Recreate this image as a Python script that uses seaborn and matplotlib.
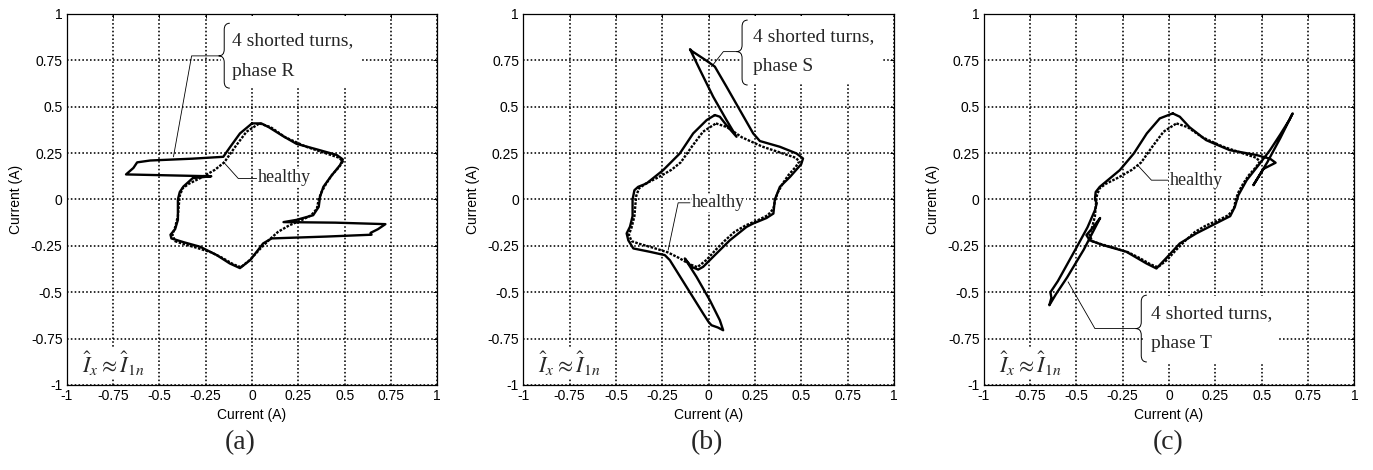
import matplotlib.pyplot as plt
import numpy as np
import pandas as pd
import seaborn as sns
from matplotlib.path import Path
from matplotlib.patches import PathPatch, Rectangle

# healthy machine loop (same in all three panels)
healthy_x = [0.04, 0.10, 0.18, 0.29, 0.41, 0.47, 0.49, 0.47, 0.43, 0.40, 0.375, 0.36, 0.35, 0.32,
             0.27, 0.20, 0.14, 0.09, 0.04, -0.01, -0.06, -0.10, -0.16, -0.22, -0.30, -0.37, -0.415,
             -0.43, -0.415, -0.40, -0.395, -0.39, -0.375, -0.34, -0.27, -0.20, -0.15, -0.09, -0.03, 0.04]
healthy_y = [0.41, 0.39, 0.335, 0.285, 0.245, 0.225, 0.205, 0.175, 0.13, 0.085, 0.04, 0.0, -0.05, -0.085,
             -0.11, -0.14, -0.175, -0.22, -0.27, -0.325, -0.365, -0.35, -0.315, -0.285, -0.26, -0.24, -0.225,
             -0.19, -0.15, -0.09, -0.03, 0.02, 0.06, 0.085, 0.12, 0.16, 0.2, 0.285, 0.365, 0.41]

# 4 shorted turns in phase R
fault_r_x = [0.0, 0.05, 0.09, 0.17, 0.24, 0.35, 0.457, 0.49, 0.475, 0.43, 0.385, 0.367, 0.36, 0.33,
             0.24, 0.17, 0.45, 0.72, 0.68, 0.64, 0.645, 0.40, 0.106, 0.06, -0.01, -0.065, -0.12,
             -0.19, -0.28, -0.37, -0.435, -0.44, -0.415, -0.40, -0.40, -0.39, -0.37, -0.32, -0.22,
             -0.45, -0.68, -0.64, -0.62, -0.55, -0.32, -0.155, -0.12, -0.065, 0.0]
fault_r_y = [0.41, 0.41, 0.39, 0.34, 0.30, 0.27, 0.24, 0.216, 0.185, 0.13, 0.068, 0.014, -0.04, -0.085,
             -0.11, -0.122, -0.125, -0.133, -0.16, -0.18, -0.19, -0.20, -0.21, -0.237, -0.327, -0.37, -0.345,
             -0.30, -0.255, -0.23, -0.21, -0.19, -0.16, -0.11, 0.0, 0.04, 0.07, 0.115, 0.125,
             0.13, 0.135, 0.17, 0.20, 0.21, 0.22, 0.23, 0.28, 0.356, 0.41]

# 4 shorted turns in phase S
fault_s_x = [0.034, 0.061, 0.097, 0.151, 0.097, 0.025, -0.047, -0.10, -0.09, -0.011, 0.034, 0.097,
             0.169, 0.241, 0.277, 0.385, 0.475, 0.51, 0.50, 0.44, 0.385, 0.358, 0.35, 0.313, 0.24,
             0.205, 0.115, 0.043, -0.029, -0.056, -0.092, -0.128, -0.065, 0.007, 0.061, 0.079, 0.05,
             0.016, 0.0, -0.029, -0.119, -0.209, -0.236, -0.317, -0.406, -0.433, -0.442, -0.424,
             -0.41, -0.41, -0.40, -0.38, -0.335, -0.245, -0.155, -0.083, -0.01, 0.034]
fault_s_y = [0.455, 0.446, 0.40, 0.338, 0.428, 0.554, 0.70, 0.81, 0.80, 0.748, 0.716, 0.608,
             0.482, 0.356, 0.315, 0.284, 0.248, 0.221, 0.19, 0.122, 0.068, 0.0, -0.076, -0.1, -0.13,
             -0.148, -0.22, -0.291, -0.363, -0.378, -0.363, -0.318, -0.417, -0.543, -0.651, -0.705, -0.69,
             -0.678, -0.66, -0.615, -0.471, -0.327, -0.30, -0.282, -0.264, -0.22, -0.183, -0.147,
             -0.09, 0.0, 0.05, 0.068, 0.086, 0.158, 0.248, 0.356, 0.428, 0.455]

# 4 shorted turns in phase T
fault_t_x = [0.02, 0.058, 0.11, 0.2, 0.327, 0.47, 0.545, 0.575, 0.51, 0.455, 0.53, 0.60, 0.667,
             0.65, 0.60, 0.545, 0.49, 0.419, 0.374, 0.355, 0.33, 0.31, 0.147, 0.058, 0.0, -0.068,
             -0.122, -0.23, -0.356, -0.428, -0.446, -0.41, -0.372, -0.46, -0.55, -0.61, -0.646,
             -0.635, -0.64, -0.60, -0.50, -0.44, -0.40, -0.39, -0.40, -0.396, -0.374, -0.266,
             -0.19, -0.12, -0.05, 0.02]
fault_t_y = [0.464, 0.446, 0.39, 0.32, 0.266, 0.24, 0.22, 0.198, 0.165, 0.077, 0.20, 0.33, 0.464,
             0.43, 0.35, 0.266, 0.194, 0.104, 0.023, -0.04, -0.09, -0.1, -0.183, -0.237, -0.30, -0.372,
             -0.345, -0.282, -0.246, -0.22, -0.192, -0.15, -0.1, -0.27, -0.42, -0.51, -0.57,
             -0.53, -0.50, -0.44, -0.26, -0.15, -0.058, -0.02, 0.0, 0.04, 0.068, 0.158,
             0.248, 0.356, 0.437, 0.464]

tick_vals = [-1, -0.75, -0.5, -0.25, 0, 0.25, 0.5, 0.75, 1]
tick_labels = ['-1', '-0.75', '-0.5', '-0.25', '0', '0.25', '0.5', '0.75', '1']
panel_names = ['(a)', '(b)', '(c)']
phases = ['R', 'S', 'T']
faults = [(fault_r_x, fault_r_y), (fault_s_x, fault_s_y), (fault_t_x, fault_t_y)]

# layout of each panel: axes rect, brace/leader/text of the fault note, healthy note
panels = [
    dict(rect=[0.0486, 0.1809, 0.2699, 0.7894], fig_label=(240, 443),
         brace=(-0.18, 0.774, 0.95, 0.60), lead=[(-0.18, 0.774), (-0.326, 0.774), (-0.424, 0.23)],
         txt=(-0.106, 0.856, 0.692), box=(-0.17, 0.60, 0.76, 0.39),
         htxt=(0.034, 0.117), hlead=[(0.025, 0.113), (-0.074, 0.113), (-0.155, 0.203)]),
    dict(rect=[0.3811, 0.1809, 0.2699, 0.7894], fig_label=(707, 443),
         brace=(0.151, 0.797, 0.967, 0.617), lead=[(0.151, 0.797), (0.08, 0.797), (0.016, 0.716)],
         txt=(0.241, 0.878, 0.716), box=(0.17, 0.63, 0.77, 0.36),
         htxt=(-0.088, -0.018), hlead=[(-0.1, -0.018), (-0.164, -0.018), (-0.218, -0.273)]),
    dict(rect=[0.7165, 0.1809, 0.2699, 0.7894], fig_label=(1168, 443),
         brace=(-0.18, -0.696, -0.516, -0.876), lead=[(-0.18, -0.696), (-0.40, -0.696), (-0.545, -0.444)],
         txt=(-0.10, -0.615, -0.777), box=(-0.14, -0.885, 0.73, 0.365),
         htxt=(0.004, 0.104), hlead=[(-0.006, 0.104), (-0.095, 0.104), (-0.167, 0.182)]),
]

sns.set_style('white')
plt.rcParams['font.family'] = ['Liberation Sans', 'DejaVu Sans']
plt.rcParams['mathtext.fontset'] = 'stix'
serif = ['Liberation Serif', 'DejaVu Serif']


def draw_brace(ax, x0, ym, yt, yb, w=0.06, h=0.035):
    xm = x0 + w / 2
    verts = [(x0 + w, yt), (xm, yt), (xm, yt - h),
             (xm, ym + h),
             (xm, ym), (x0, ym),
             (xm, ym), (xm, ym - h),
             (xm, yb + h),
             (xm, yb), (x0 + w, yb)]
    codes = [Path.MOVETO, Path.CURVE3, Path.CURVE3,
             Path.LINETO,
             Path.CURVE3, Path.CURVE3,
             Path.CURVE3, Path.CURVE3,
             Path.LINETO,
             Path.CURVE3, Path.CURVE3]
    ax.add_patch(PathPatch(Path(verts, codes), fill=False, lw=0.7, color='k', zorder=4))


fig = plt.figure(figsize=(13.73, 4.70), dpi=100)

for i, p in enumerate(panels):
    ax = fig.add_axes(p['rect'])
    ax.set_axisbelow(True)
    fx, fy = faults[i]
    h_df = pd.DataFrame({'x': healthy_x, 'y': healthy_y})
    f_df = pd.DataFrame({'x': fx, 'y': fy})
    sns.lineplot(data=h_df, x='x', y='y', sort=False, estimator=None, ax=ax,
                 color='k', lw=1.7, linestyle=(0, (1.1, 0.6)), zorder=3)
    sns.lineplot(data=f_df, x='x', y='y', sort=False, estimator=None, ax=ax,
                 color='k', lw=1.7, zorder=3)

    ax.set_xlim(-1, 1)
    ax.set_ylim(-1, 1)
    ax.set_xticks(tick_vals)
    ax.set_xticklabels(tick_labels)
    ax.set_yticks(tick_vals)
    ax.set_yticklabels(tick_labels)
    ax.grid(True, color='k', linestyle=(0, (1, 1.4)), linewidth=1.15)
    ax.tick_params(direction='in', length=3, width=0.7, colors='k', labelsize=10,
                   top=True, right=True, pad=3)
    for s in ax.spines.values():
        s.set_color('k')
        s.set_linewidth(0.9)
    ax.set_xlabel('Current (A)', fontsize=10, color='k')
    ax.set_ylabel('Current (A)', fontsize=10, color='k')
    ax.xaxis.set_label_coords(0.5, -0.062)
    ax.yaxis.set_label_coords(-0.118, 0.5)

    # white area behind the fault note
    bx, by, bw, bh = p['box']
    ax.add_patch(Rectangle((bx, by), bw, bh, facecolor='white', edgecolor='none', zorder=1))
    x0, ym, yt, yb = p['brace']
    draw_brace(ax, x0, ym, yt, yb)
    lx, ly = zip(*p['lead'])
    ax.plot(lx, ly, color='k', lw=0.6, zorder=4)
    tx, t1, t2 = p['txt']
    ax.text(tx, t1, '4 shorted turns,', family=serif, fontsize=14, va='center', ha='left', zorder=5)
    ax.text(tx, t2, 'phase ' + phases[i], family=serif, fontsize=14, va='center', ha='left', zorder=5)

    hx, hy = p['htxt']
    ax.text(hx, hy, 'healthy', family=serif, fontsize=13, va='center', ha='left', zorder=5,
            bbox=dict(facecolor='white', edgecolor='none', pad=0.5))
    hlx, hly = zip(*p['hlead'])
    ax.plot(hlx, hly, color='k', lw=0.6, zorder=4)

    ax.text(-0.92, -0.885, r'$\hat{I}_x \approx \hat{I}_{1n}$', fontsize=16, va='center', ha='left',
            zorder=5, bbox=dict(facecolor='white', edgecolor='none', pad=1))

    lxp, lyp = p['fig_label']
    fig.text(lxp / 1373, 1 - lyp / 470, panel_names[i], family=serif, fontsize=20,
             ha='center', va='center')

fig.savefig('out.png', dpi=100, facecolor='white')
